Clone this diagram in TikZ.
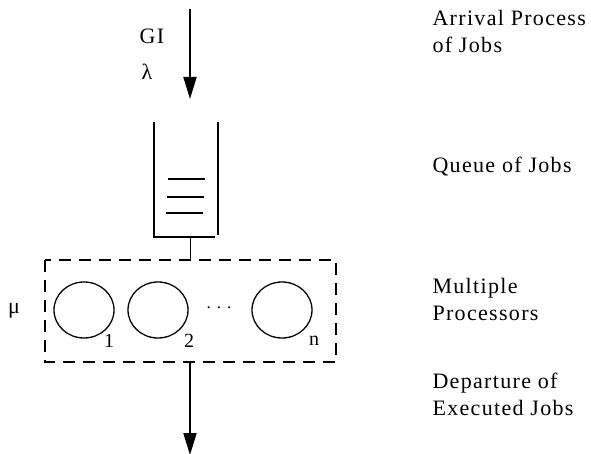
\documentclass[tikz,border=0pt]{standalone}
\usepackage{fontspec}
\setmainfont{Liberation Serif}[LetterSpace=6]
\usetikzlibrary{arrows.meta,shapes.geometric}
\begin{document}
\begin{tikzpicture}[x=1pt,y=-1pt,
  wire/.style={line width=2pt},
  flow/.style={line width=2pt,-{Triangle[length=22pt,width=13pt]}},
  proc/.style={draw,ellipse,line width=1.3pt,minimum width=60pt,minimum height=56pt,inner sep=0pt},
  farm/.style={draw,line width=2pt,dash pattern=on 12pt off 8pt},
  side/.style={anchor=west,align=left,font=\fontsize{22}{27}\selectfont},
  sym/.style={font=\fontsize{22}{24}\selectfont},
  idx/.style={font=\fontsize{20}{22}\selectfont}]
\useasboundingbox (0,0) rectangle (591,454);

% arrival stream
\coordinate (src) at (190,9);
\coordinate (inlet) at (190,99);
\draw[flow] (src) -- (inlet);
\node[sym] (gi) at (152,36) {GI};
\node[sym] (lam) at (147,72) {λ};

% queue buffer
\coordinate (qtl) at (154,122);
\coordinate (qbl) at (154,237);
\coordinate (qbr) at (215,237);
\coordinate (qtr) at (218,122);
\coordinate (qtr2) at (218,235);
\draw[wire] (qtl) -- (qbl) -- (qbr);
\draw[wire] (qtr) -- (qtr2);
\foreach \y/\a/\b in {179/168/205, 197/167/204, 213/166/203}
  \draw[wire] (\a,\y) -- (\b,\y);

% processor pool
\draw[farm] (45,260) rectangle (336,362);
\coordinate (qout) at (190,237);
\coordinate (pin) at (190,260);
\draw[line width=1pt] (qout) -- (pin);
\node[proc] (p1) at (84,310) {};
\node[proc] (p2) at (158,310) {};
\node[proc] (pn) at (282,310) {};
\node[idx] (l1) at (109,341) {1};
\node[idx] (l2) at (189,341) {2};
\node[idx] (ln) at (314,341) {n};
\node[font=\fontsize{17}{20}\selectfont] (dots) at (219,308) {.\hspace{6pt}.\hspace{6pt}.};
\node[sym] (mu) at (14,311) {μ};

% departure stream
\coordinate (pout) at (190,362);
\coordinate (sink) at (190,455);
\draw[flow] (pout) -- (sink);

% side captions
\node[side] (c1) at (429,31) {Arrival Process\\of Jobs};
\node[side] (c2) at (429,167) {Queue of Jobs};
\node[side] (c3) at (429,299) {Multiple\\Processors};
\node[side] (c4) at (429,394) {Departure of\\Executed Jobs};
\end{tikzpicture}
\end{document}
